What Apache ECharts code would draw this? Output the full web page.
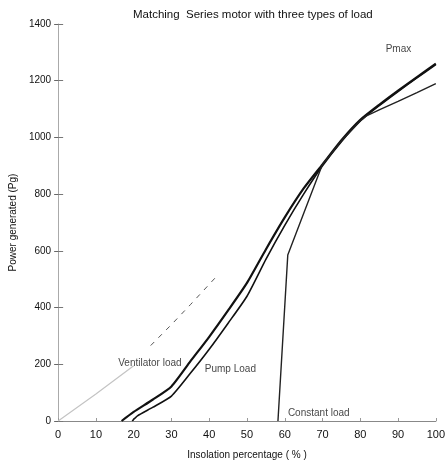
<!DOCTYPE html>
<html>
<head>
<meta charset="utf-8">
<script src="https://cdn.jsdelivr.net/npm/echarts@6/dist/echarts.min.js"></script>
<style>
  html, body { margin: 0; padding: 0; background: #fff; }
  #chart { width: 448px; height: 468px; }
</style>
</head>
<body>
<div id="chart"></div>
<script>
// values
const xTicks = [0, 10, 20, 30, 40, 50, 60, 70, 80, 90, 100]

const pmaxX = [16.8, 20, 25, 30, 35, 40, 45, 50, 55, 60, 65, 70, 75, 80, 85, 90, 95, 100]
const pmaxY = [0, 32, 75, 122, 210, 297, 390, 487, 605, 718, 820, 905, 990, 1062, 1115, 1165, 1213, 1260]

const pumpX = [19.6, 21, 25, 30, 35, 40, 45, 50, 55, 60, 65, 70, 75, 80, 85, 90, 95, 100]
const pumpY = [0, 18, 48, 88, 168, 253, 345, 440, 570, 690, 800, 900, 985, 1058, 1112, 1162, 1210, 1257]

const constX = [58.2, 60.8, 65, 70, 75, 80, 81.5, 85, 90, 95, 100]
const constY = [0, 585, 732, 905, 988, 1058, 1075, 1097, 1127, 1158, 1190]

const ventSolidX = [0, 10, 20]
const ventSolidY = [0, 95, 195]
const ventDashX = [24.5, 30, 35, 42.5]
const ventDashY = [266, 340, 410, 518]

// text notes placed in data coordinates
const notes = [
  ['Pmax', 90.1, 1312],
  ['Ventilator load', 24.3, 205],
  ['Pump Load', 45.6, 183],
  ['Constant load', 69, 28],
]

const pairs = (xs, ys) => xs.map((x, i) => [x, ys[i]])
const font = 'Liberation Sans, Arial, sans-serif'

const chart = echarts.init(document.getElementById('chart'))
const option = {
  animation: false,
  title: {
    text: 'Matching  Series motor with three types of load',
    left: 128,
    top: 4,
    textStyle: { fontSize: 11.5, fontWeight: 'normal', color: '#111', fontFamily: font },
  },
  grid: { left: 57, right: 11, top: 24, bottom: 47 },
  xAxis: [
    {
      type: 'value',
      min: 0,
      max: 100,
      interval: 10,
      name: 'Insolation percentage ( % )',
      nameLocation: 'middle',
      nameGap: 29,
      nameTextStyle: { fontSize: 10, color: '#111', fontFamily: font },
      axisLine: { lineStyle: { color: '#aaa' } },
      axisTick: { show: true, inside: true, length: 3, lineStyle: { color: '#999' } },
      axisLabel: { fontSize: 11, color: '#111', margin: 8, fontFamily: font },
      splitLine: { show: false },
    },
    {
      type: 'value',
      position: 'top',
      min: 0,
      max: 100,
      axisLine: { show: true, lineStyle: { color: '#888' } },
      axisTick: { show: false },
      axisLabel: { show: false },
      splitLine: { show: false },
    },
  ],
  yAxis: [
    {
      type: 'value',
      min: 0,
      max: 1400,
      interval: 200,
      name: 'Power generated (Pg)',
      nameLocation: 'middle',
      nameGap: 32,
      nameTextStyle: { fontSize: 10, color: '#111', fontFamily: font },
      axisLine: { show: true, lineStyle: { color: '#aaa' } },
      axisTick: { show: true, length: 4, lineStyle: { color: '#666' } },
      axisLabel: { fontSize: 10, color: '#111', margin: 7, fontFamily: font, formatter: (v) => String(v) },
      splitLine: { show: false },
    },
    {
      type: 'value',
      position: 'right',
      min: 0,
      max: 1400,
      interval: 200,
      axisLine: { show: false },
      axisTick: { show: true, length: 5, lineStyle: { color: '#777' } },
      axisLabel: { show: false },
      splitLine: { show: false },
    },
  ],
  series: [
    {
      name: 'Ventilator load',
      type: 'line',
      data: pairs(ventSolidX, ventSolidY),
      symbol: 'none',
      lineStyle: { color: '#c4c4c4', width: 1.2 },
    },
    {
      name: 'Ventilator load (dashed)',
      type: 'line',
      data: pairs(ventDashX, ventDashY),
      symbol: 'none',
      lineStyle: { color: '#555', width: 1, type: [5, 6] },
    },
    {
      name: 'Pmax',
      type: 'line',
      data: pairs(pmaxX, pmaxY),
      symbol: 'none',
      smooth: 0.2,
      lineStyle: { color: '#111', width: 2.2 },
    },
    {
      name: 'Pump Load',
      type: 'line',
      data: pairs(pumpX, pumpY),
      symbol: 'none',
      smooth: 0.2,
      lineStyle: { color: '#111', width: 1.6 },
    },
    {
      name: 'Constant load',
      type: 'line',
      data: pairs(constX, constY),
      symbol: 'none',
      lineStyle: { color: '#222', width: 1.4 },
    },
    {
      name: 'notes',
      type: 'scatter',
      data: notes.map((n) => [n[1], n[2], n[0]]),
      symbolSize: 1,
      itemStyle: { color: 'rgba(0,0,0,0)' },
      label: {
        show: true,
        position: 'inside',
        formatter: (p) => p.data[2],
        fontSize: 10,
        color: '#111',
        fontFamily: font,
      },
      z: 5,
    },
  ],
}

option && chart.setOption(option)
</script>
</body>
</html>
